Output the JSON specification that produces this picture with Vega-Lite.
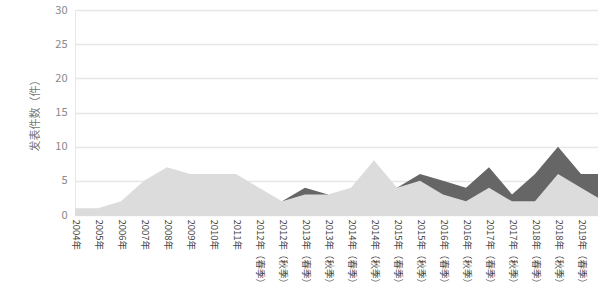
{
  "$schema": "https://vega.github.io/schema/vega-lite/v6.json",
  "width": 529,
  "height": 205,
  "autosize": {"type": "none"},
  "padding": {"left": 75, "top": 10, "right": 0, "bottom": 84},
  "background": "white",
  "config": {
    "view": {"stroke": null},
    "font": "Noto Sans CJK SC"
  },
  "data": {
    "values": [
      {"period": "2004年", "light": 1, "dark": null},
      {"period": "2005年", "light": 1, "dark": null},
      {"period": "2006年", "light": 2, "dark": null},
      {"period": "2007年", "light": 5, "dark": null},
      {"period": "2008年", "light": 7, "dark": null},
      {"period": "2009年", "light": 6, "dark": null},
      {"period": "2010年", "light": 6, "dark": null},
      {"period": "2011年", "light": 6, "dark": null},
      {"period": "2012年（春季）", "light": 4, "dark": null},
      {"period": "2012年（秋季）", "light": 2, "dark": 2},
      {"period": "2013年（春季）", "light": 3, "dark": 4},
      {"period": "2013年（秋季）", "light": 3, "dark": 3},
      {"period": "2014年（春季）", "light": 4, "dark": null},
      {"period": "2014年（秋季）", "light": 8, "dark": null},
      {"period": "2015年（春季）", "light": 4, "dark": 4},
      {"period": "2015年（秋季）", "light": 5, "dark": 6},
      {"period": "2016年（春季）", "light": 3, "dark": 5},
      {"period": "2016年（秋季）", "light": 2, "dark": 4},
      {"period": "2017年（春季）", "light": 4, "dark": 7},
      {"period": "2017年（秋季）", "light": 2, "dark": 3},
      {"period": "2018年（春季）", "light": 2, "dark": 6},
      {"period": "2018年（秋季）", "light": 6, "dark": 10},
      {"period": "2019年（春季）", "light": 4, "dark": 6},
      {"period": "2019年（秋季）", "light": 2, "dark": 6}
    ]
  },
  "transform": [
    {"fold": ["dark", "light"], "as": ["series", "count"]}
  ],
  "mark": {"type": "area", "opacity": 1},
  "encoding": {
    "x": {
      "field": "period",
      "type": "ordinal",
      "sort": null,
      "scale": {"type": "point", "padding": 0},
      "axis": {
        "title": null,
        "labelAngle": 90,
        "labelFontSize": 9.5,
        "labelColor": "#444",
        "labelPadding": 4,
        "ticks": false,
        "domain": true,
        "domainColor": "#ddd",
        "grid": false,
        "labelOverlap": false
      }
    },
    "y": {
      "field": "count",
      "type": "quantitative",
      "stack": null,
      "scale": {"domain": [0, 30], "nice": false},
      "axis": {
        "title": "发表件数（件）",
        "titleFontSize": 11,
        "titleColor": "#777",
        "titleFontWeight": "normal",
        "titlePadding": 14,
        "values": [0, 5, 10, 15, 20, 25, 30],
        "labelOverlap": false,
        "labelFontSize": 11,
        "labelColor": "#888",
        "labelPadding": 8,
        "ticks": false,
        "domain": true,
        "domainColor": "#e8e8e8",
        "gridColor": "#e6e6e6",
        "gridWidth": 1.5
      }
    },
    "color": {
      "field": "series",
      "type": "nominal",
      "scale": {"domain": ["dark", "light"], "range": ["#666666", "#dcdcdc"]},
      "legend": null
    },
    "order": {"field": "series", "sort": "ascending"}
  }
}
